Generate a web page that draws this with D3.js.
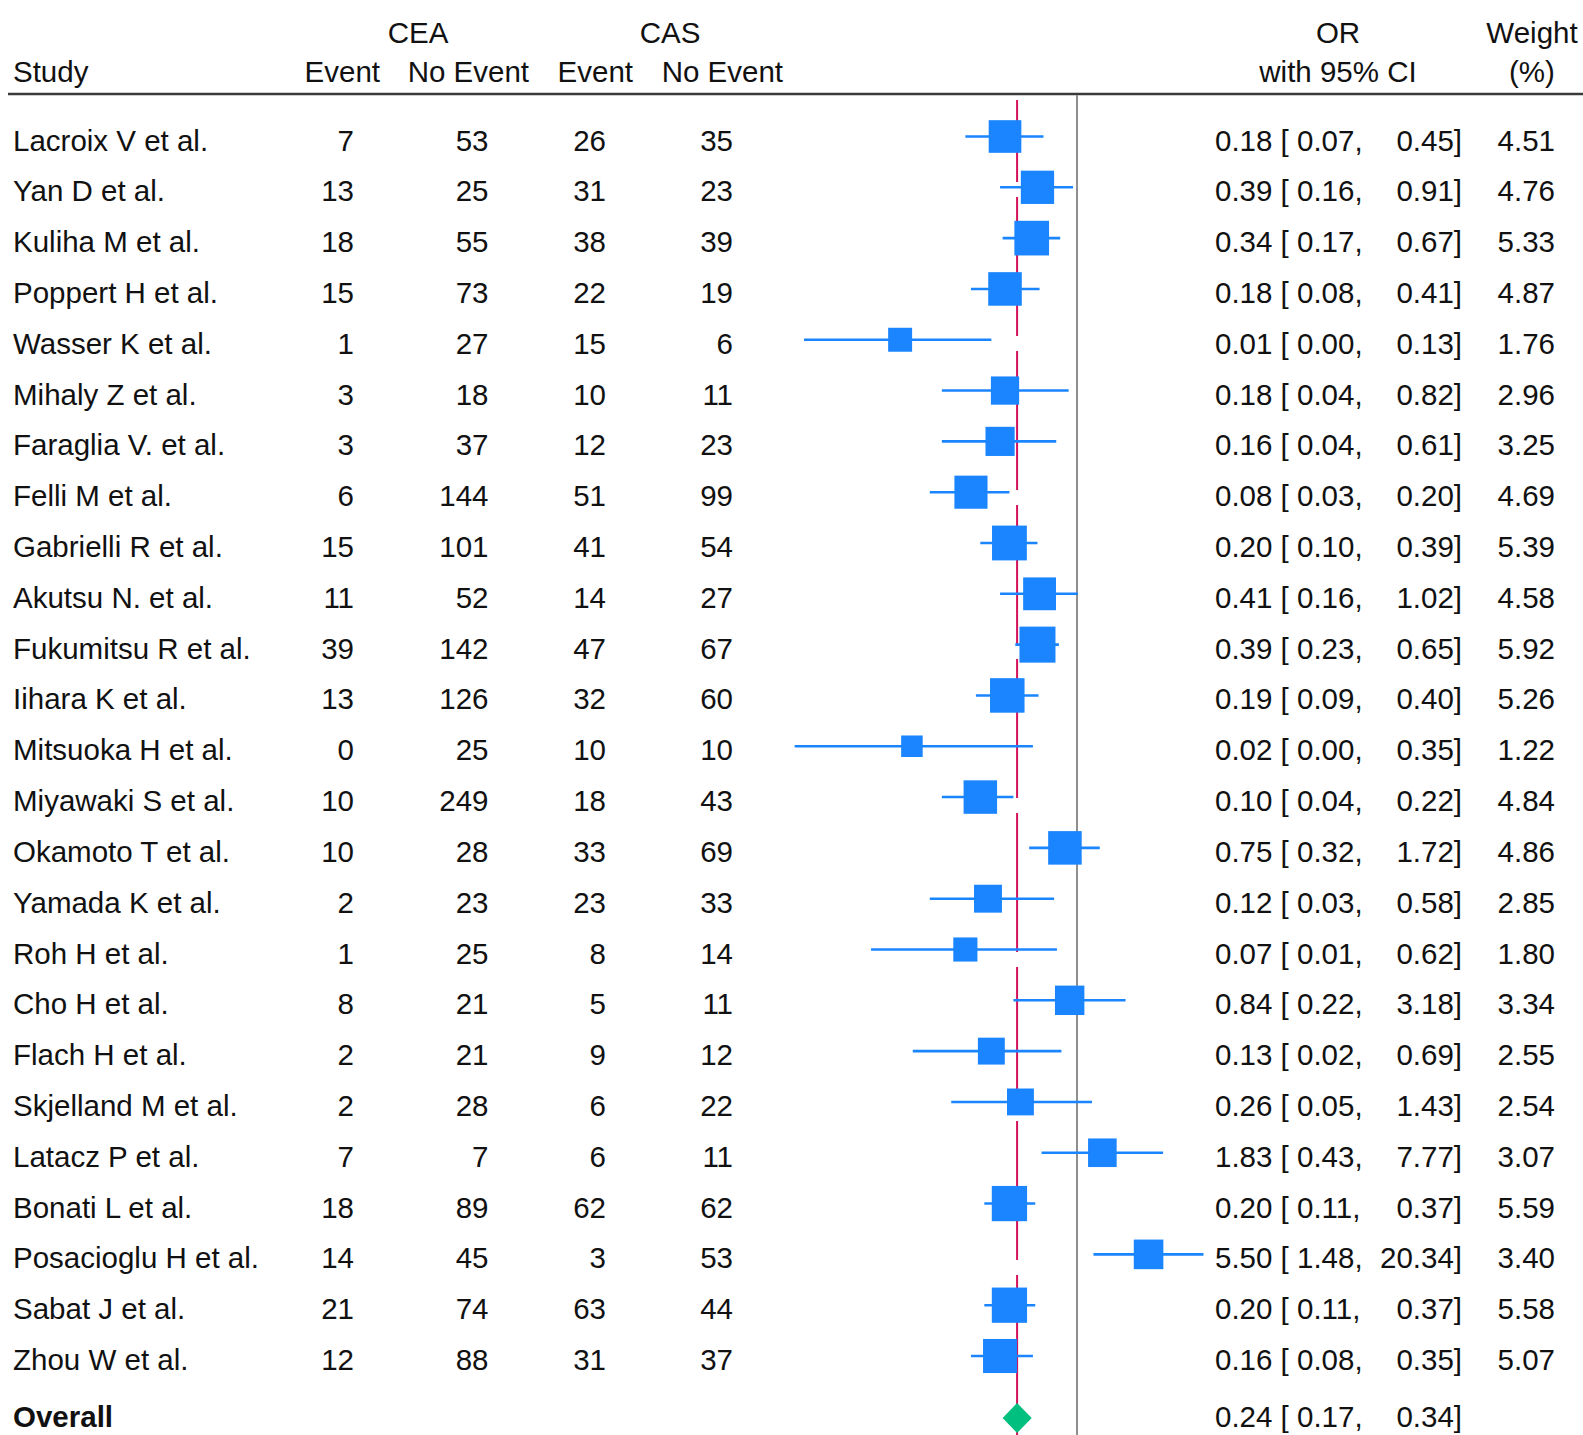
<!DOCTYPE html>
<html>
<head>
<meta charset="utf-8">
<script src="https://cdn.jsdelivr.net/npm/d3@7"></script>
<style>
  html, body { margin: 0; padding: 0; background: #fff; }
  svg { display: block; }
  text { font-family: "Liberation Sans", Arial, Helvetica, sans-serif; fill: #111; }
</style>
</head>
<body>
<svg id="chart" width="1583" height="1435"></svg>
<script>
// ---------------- data ----------------
const studies = ["Lacroix V et al.", "Yan D et al.", "Kuliha M et al.", "Poppert H et al.", "Wasser K et al.",
  "Mihaly Z et al.", "Faraglia V. et al.", "Felli M et al.", "Gabrielli R et al.", "Akutsu N. et al.",
  "Fukumitsu R et al.", "Iihara K et al.", "Mitsuoka H et al.", "Miyawaki S et al.", "Okamoto T et al.",
  "Yamada K et al.", "Roh H et al.", "Cho H et al.", "Flach H et al.", "Skjelland M et al.",
  "Latacz P et al.", "Bonati L et al.", "Posacioglu H et al.", "Sabat J et al.", "Zhou W et al."];
const ceaEvent   = [7, 13, 18, 15, 1, 3, 3, 6, 15, 11, 39, 13, 0, 10, 10, 2, 1, 8, 2, 2, 7, 18, 14, 21, 12];
const ceaNoEvent = [53, 25, 55, 73, 27, 18, 37, 144, 101, 52, 142, 126, 25, 249, 28, 23, 25, 21, 21, 28, 7, 89, 45, 74, 88];
const casEvent   = [26, 31, 38, 22, 15, 10, 12, 51, 41, 14, 47, 32, 10, 18, 33, 23, 8, 5, 9, 6, 6, 62, 3, 63, 31];
const casNoEvent = [35, 23, 39, 19, 6, 11, 23, 99, 54, 27, 67, 60, 10, 43, 69, 33, 14, 11, 12, 22, 11, 62, 53, 44, 37];
const orValues   = [0.18, 0.39, 0.34, 0.18, 0.0148, 0.18, 0.16, 0.08, 0.20, 0.41, 0.39, 0.19, 0.0196, 0.10, 0.75,
  0.12, 0.07, 0.84, 0.13, 0.26, 1.83, 0.20, 5.50, 0.20, 0.16];
const ciLower    = [0.07, 0.16, 0.17, 0.08, 0.0015, 0.04, 0.04, 0.03, 0.10, 0.16, 0.23, 0.09, 0.0012, 0.04, 0.32,
  0.03, 0.0074, 0.22, 0.02, 0.05, 0.43, 0.11, 1.48, 0.11, 0.08];
const ciUpper    = [0.45, 0.91, 0.67, 0.41, 0.13, 0.82, 0.61, 0.20, 0.39, 1.02, 0.65, 0.40, 0.35, 0.22, 1.72,
  0.58, 0.62, 3.18, 0.69, 1.43, 7.77, 0.37, 20.34, 0.37, 0.35];
const weights    = [4.51, 4.76, 5.33, 4.87, 1.76, 2.96, 3.25, 4.69, 5.39, 4.58, 5.92, 5.26, 1.22, 4.84, 4.86,
  2.85, 1.80, 3.34, 2.55, 2.54, 3.07, 5.59, 3.40, 5.58, 5.07];
const overallLabel = "Overall";
const overallOR = 0.24, overallLo = 0.17, overallHi = 0.34;
const groupHeaders = ["CEA", "CAS"];
const colHeaders = ["Event", "No Event", "Event", "No Event"];

// ---------------- layout ----------------
const svg = d3.select("#chart");
const W = 1583, H = 1435;
const FS = 29.5;
const blue = "#1A85FF", crimson = "#D41159", green = "#00BF7F", grey = "#8f8f8f";

const x = d3.scaleLog().domain([0.001, 1]).range([787, 1077]);
const y = d3.scaleLinear().domain([0, studies.length - 1]).range([136.5, 1356]);
const yOverall = 1418;
const boxSize = d3.scaleLinear().domain([0, Math.sqrt(6)]).range([9.5, 9.5 + 10.9 * Math.sqrt(6)]);
const fmt = d3.format(".2f");
const textDy = 14;

// header
const hdr = svg.append("g").style("font-size", FS + "px");
hdr.append("text").attr("x", 418).attr("y", 43).attr("text-anchor", "middle").text(groupHeaders[0]);
hdr.append("text").attr("x", 670).attr("y", 43).attr("text-anchor", "middle").text(groupHeaders[1]);
hdr.append("text").attr("x", 13).attr("y", 82).text("Study");
const headerRight = [380, 529, 633, 783];
colHeaders.forEach((h, i) => hdr.append("text").attr("x", headerRight[i]).attr("y", 82).attr("text-anchor", "end").text(h));
hdr.append("text").attr("x", 1338).attr("y", 43).attr("text-anchor", "middle").text("OR");
hdr.append("text").attr("x", 1338).attr("y", 82).attr("text-anchor", "middle").text("with 95% CI");
hdr.append("text").attr("x", 1532).attr("y", 43).attr("text-anchor", "middle").text("Weight");
hdr.append("text").attr("x", 1532).attr("y", 82).attr("text-anchor", "middle").text("(%)");

// header rule
svg.append("line").attr("x1", 8).attr("x2", W).attr("y1", 94).attr("y2", 94)
  .attr("stroke", "#3a3a3a").attr("stroke-width", 2.5);

// no-effect line (OR = 1)
svg.append("line").attr("x1", x(1)).attr("x2", x(1)).attr("y1", 95).attr("y2", H)
  .attr("stroke", grey).attr("stroke-width", 2);

// overall effect line
svg.append("line").attr("x1", x(overallOR)).attr("x2", x(overallOR)).attr("y1", 100).attr("y2", H)
  .attr("stroke", crimson).attr("stroke-width", 2)
  .attr("stroke-dasharray", "139 15").attr("stroke-dashoffset", 57);

// study rows
const rows = svg.append("g");
const idx = d3.range(studies.length);

// whiskers
rows.selectAll("line.ci").data(idx).join("line").attr("class", "ci")
  .attr("x1", i => x(ciLower[i])).attr("x2", i => x(ciUpper[i]))
  .attr("y1", i => y(i)).attr("y2", i => y(i))
  .attr("stroke", blue).attr("stroke-width", 2.6);

// boxes
rows.selectAll("rect.box").data(idx).join("rect").attr("class", "box")
  .attr("x", i => x(orValues[i]) - boxSize(Math.sqrt(weights[i])) / 2)
  .attr("y", i => y(i) - boxSize(Math.sqrt(weights[i])) / 2)
  .attr("width", i => boxSize(Math.sqrt(weights[i])))
  .attr("height", i => boxSize(Math.sqrt(weights[i])))
  .attr("fill", blue);

// text columns
const txt = svg.append("g").style("font-size", FS + "px");
txt.selectAll("text.name").data(idx).join("text").attr("class", "name")
  .attr("x", 13).attr("y", i => y(i) + textDy).text(i => studies[i]);
const numCols = [ceaEvent, ceaNoEvent, casEvent, casNoEvent];
const numRight = [354, 488.5, 606, 733];
numCols.forEach((arr, c) => {
  txt.selectAll("text.n" + c).data(idx).join("text").attr("class", "n" + c)
    .attr("x", numRight[c]).attr("y", i => y(i) + textDy).attr("text-anchor", "end").text(i => arr[i]);
});
const orLeft = 1215, orRight = 1462, wRight = 1555;
txt.selectAll("text.orl").data(idx).join("text").attr("class", "orl")
  .attr("x", orLeft).attr("y", i => y(i) + textDy)
  .text(i => fmt(orValues[i]) + " [ " + fmt(ciLower[i]) + ",");
txt.selectAll("text.oru").data(idx).join("text").attr("class", "oru")
  .attr("x", orRight).attr("y", i => y(i) + textDy).attr("text-anchor", "end")
  .text(i => fmt(ciUpper[i]) + "]");
txt.selectAll("text.w").data(idx).join("text").attr("class", "w")
  .attr("x", wRight).attr("y", i => y(i) + textDy).attr("text-anchor", "end")
  .text(i => fmt(weights[i]));

// overall
const dh = 15;
svg.append("polygon")
  .attr("points", [[x(overallLo), yOverall], [x(overallOR), yOverall - dh], [x(overallHi), yOverall], [x(overallOR), yOverall + dh]].map(p => p.join(",")).join(" "))
  .attr("fill", green);
const overallBase = yOverall + 9;
txt.append("text").attr("x", 13).attr("y", overallBase).style("font-weight", "bold").text(overallLabel);
txt.append("text").attr("x", orLeft).attr("y", overallBase).text(fmt(overallOR) + " [ " + fmt(overallLo) + ",");
txt.append("text").attr("x", orRight).attr("y", overallBase).attr("text-anchor", "end").text(fmt(overallHi) + "]");
</script>
</body>
</html>
